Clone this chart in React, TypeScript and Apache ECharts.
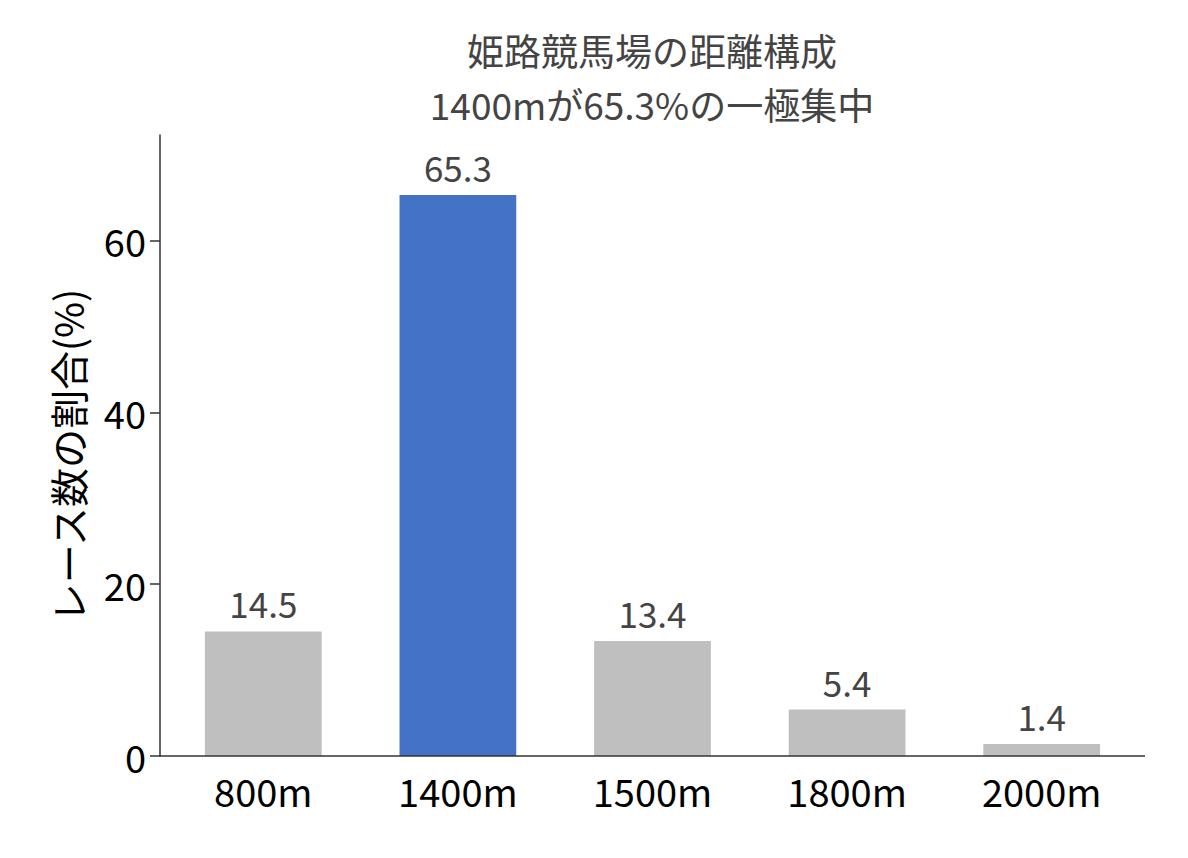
import React, { useEffect, useRef } from "react";
import * as echarts from "echarts";

const categories = ["800m", "1400m", "1500m", "1800m", "2000m"];
const values = [14.5, 65.3, 13.4, 5.4, 1.4];
const highlightIndex = 1;
const yTicks = [0, 20, 40, 60];
const yMax = 72.3;
const titleLines = ["姫路競馬場の距離構成", "1400mが65.3%の一極集中"];
const yName = "レース数の割合(%)";

const FONT = "'Noto Sans CJK JP', 'Noto Sans', sans-serif";

export default function App() {
  const ref = useRef<HTMLDivElement>(null);
  useEffect(() => {
    document.body.style.margin = "0";
    const chart = echarts.init(ref.current!, null, { renderer: "svg" });
    const titleStyle = {
      fontFamily: FONT,
      fontSize: 37,
      fontWeight: "normal",
      color: "#444444",
      lineHeight: 54,
    };
    chart.setOption({
      animation: false,
      backgroundColor: "#ffffff",
      textStyle: { fontFamily: FONT },
      title: {
        text: titleLines[0],
        subtext: titleLines[1],
        left: 652,
        top: 23,
        itemGap: 0,
        padding: 0,
        textAlign: "center",
        textStyle: titleStyle,
        subtextStyle: titleStyle,
      },
      grid: { left: 166, right: 49, top: 135, bottom: 102 },
      graphic: [
        {
          type: "line",
          shape: { x1: 160, y1: 756, x2: 1145, y2: 756 },
          style: { stroke: "#333333", lineWidth: 1.5 },
          z: 10,
        },
      ],
      xAxis: {
        type: "category",
        data: categories,
        axisLine: { show: false },
        axisTick: { alignWithLabel: true, length: 10, lineStyle: { color: "#333333", width: 1.5 } },
        axisLabel: { fontFamily: FONT, fontSize: 38, color: "#000000", margin: 15 },
      },
      yAxis: {
        type: "value",
        min: 0,
        max: yMax,
        interval: 20,
        offset: 6,
        name: yName,
        nameLocation: "middle",
        nameGap: 74,
        nameTextStyle: { fontFamily: FONT, fontSize: 39, color: "#000000", padding: [0, 20, 0, 0] },
        splitLine: { show: false },
        axisLine: { show: true, lineStyle: { color: "#333333", width: 1.5 } },
        axisTick: {
          show: true,
          length: 10,
          customValues: yTicks,
          lineStyle: { color: "#333333", width: 1.5 },
        },
        axisLabel: {
          fontFamily: FONT,
          fontSize: 38,
          color: "#000000",
          margin: 14,
          customValues: yTicks,
        },
      },
      series: [
        {
          type: "bar",
          barWidth: "60%",
          data: values.map((v, i) => ({
            value: v,
            itemStyle: { color: i === highlightIndex ? "#4472C4" : "#BFBFBF" },
          })),
          label: {
            show: true,
            position: "top",
            distance: 11,
            fontFamily: FONT,
            fontSize: 35,
            color: "#444444",
            formatter: (p: any) => p.value.toFixed(1),
          },
        },
      ],
    });
    return () => chart.dispose();
  }, []);
  return (
    <div
      ref={ref}
      style={{ position: "fixed", left: 0, top: 0, width: 1188, height: 858 }}
    />
  );
}
